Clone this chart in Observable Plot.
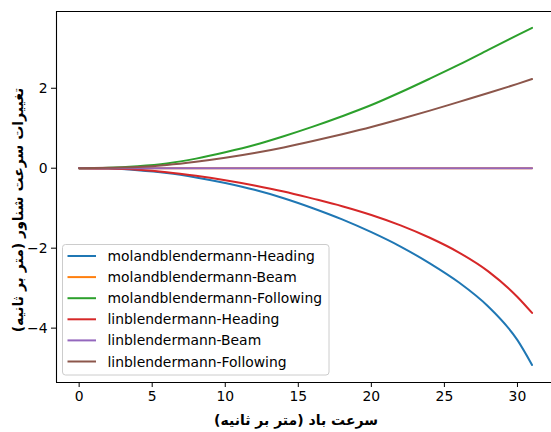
<!DOCTYPE html>
<html>
<head>
<meta charset="utf-8">
<script src="https://cdn.jsdelivr.net/npm/d3@7"></script>
<script src="https://cdn.jsdelivr.net/npm/@observablehq/plot@0.6"></script>
<style>
  html, body { margin: 0; padding: 0; background: #fff; }
  #chart svg { display: block; font-family: "DejaVu Sans", sans-serif; }
</style>
</head>
<body>
<div id="chart"></div>
<script>
// ---- data ----
const windSpeed = [0, 2, 4, 6, 8, 10, 12, 14, 16, 18, 20, 22, 24, 26, 28, 30, 31];
const molHeading   = [0, -0.01, -0.05, -0.12, -0.23, -0.37, -0.54, -0.75, -1.00, -1.28, -1.60, -1.96, -2.38, -2.86, -3.46, -4.30, -4.92];
const molBeam      = [0, 0, 0, 0, 0, 0, 0, 0, 0, 0, 0, 0, 0, 0, 0, 0, 0];
const molFollowing = [0, 0.01, 0.05, 0.12, 0.24, 0.40, 0.58, 0.80, 1.04, 1.30, 1.58, 1.90, 2.24, 2.59, 2.96, 3.33, 3.51];
const linHeading   = [0, -0.01, -0.04, -0.10, -0.19, -0.30, -0.43, -0.58, -0.76, -0.95, -1.17, -1.43, -1.74, -2.11, -2.58, -3.22, -3.62];
const linBeam      = [0, 0, 0, 0, 0, 0, 0, 0, 0, 0, 0, 0, 0, 0, 0, 0, 0];
const linFollowing = [0, 0.01, 0.03, 0.08, 0.16, 0.26, 0.38, 0.52, 0.68, 0.85, 1.03, 1.23, 1.44, 1.66, 1.88, 2.11, 2.23];

const seriesNames = [
  "molandblendermann-Heading",
  "molandblendermann-Beam",
  "molandblendermann-Following",
  "linblendermann-Heading",
  "linblendermann-Beam",
  "linblendermann-Following"
];
const seriesValues = [molHeading, molBeam, molFollowing, linHeading, linBeam, linFollowing];
const seriesColors = ["#1f77b4", "#ff7f0e", "#2ca02c", "#d62728", "#9467bd", "#8c564b"];

const xTicks = [0, 5, 10, 15, 20, 25, 30];
const yTicks = [-4, -2, 0, 2];
const xDomain = [-1.55, 32.33];
const yDomain = [-5.36, 3.92];

const xLabel = "سرعت باد (متر بر ثانیه)";
const yLabel = "تغییرات سرعت شناور (متر بر ثانیه)";

// ---- build table ----
const rows = [];
seriesNames.forEach((name, s) => {
  windSpeed.forEach((w, i) => rows.push({series: name, x: w, y: seriesValues[s][i]}));
});

const W = 551, H = 432;
const mL = 56, mR = 0, mT = 11, mB = 50;
const fs = 13.9;

const chart = Plot.plot({
  width: W,
  height: H,
  marginLeft: mL,
  marginRight: mR,
  marginTop: mT,
  marginBottom: mB,
  style: {fontFamily: "DejaVu Sans", fontSize: fs + "px", color: "#000", background: "#fff"},
  x: {domain: xDomain},
  y: {domain: yDomain},
  color: {domain: seriesNames, range: seriesColors},
  marks: [
    Plot.ruleX([xDomain[0]], {stroke: "#000", strokeWidth: 1.1}),
    Plot.ruleY([yDomain[0]], {stroke: "#000", strokeWidth: 1.1}),
    Plot.ruleY([yDomain[1]], {stroke: "#000", strokeWidth: 1.1}),
    Plot.axisX({ticks: xTicks, tickSize: 5, tickPadding: 4, label: null, fontSize: fs, tickFormat: d => String(d)}),
    Plot.axisY({ticks: yTicks, tickSize: 5, tickPadding: 4, label: null, fontSize: fs}),
    Plot.line(rows, {x: "x", y: "y", z: "series", stroke: "series", strokeWidth: 2, curve: "monotone-x"})
  ]
});

document.getElementById("chart").appendChild(chart);

// ---- labels & legend ----
const svg = d3.select(chart);

svg.append("text")
  .attr("x", 296)
  .attr("y", 420)
  .attr("text-anchor", "middle")
  .attr("dominant-baseline", "central")
  .attr("direction", "rtl")
  .attr("font-family", "DejaVu Sans")
  .attr("font-weight", "bold")
  .attr("font-size", 14)
  .attr("fill", "#000")
  .text(xLabel);

svg.append("text")
  .attr("transform", "translate(18,210) rotate(-90)")
  .attr("text-anchor", "middle")
  .attr("dominant-baseline", "central")
  .attr("direction", "rtl")
  .attr("font-family", "DejaVu Sans")
  .attr("font-weight", "bold")
  .attr("font-size", 14)
  .attr("fill", "#000")
  .text(yLabel);

const lg = svg.append("g").attr("text-anchor", "start");
lg.append("rect")
  .attr("x", 62.5).attr("y", 244.5)
  .attr("width", 266.5).attr("height", 130.5)
  .attr("rx", 3)
  .attr("fill", "#fff").attr("fill-opacity", 0.85)
  .attr("stroke", "#cccccc").attr("stroke-width", 1);

seriesNames.forEach((name, i) => {
  const cy = 256 + i * 21.1;
  lg.append("line")
    .attr("x1", 67.5).attr("x2", 96)
    .attr("y1", cy).attr("y2", cy)
    .attr("stroke", seriesColors[i]).attr("stroke-width", 2);
  lg.append("text")
    .attr("x", 107.5).attr("y", cy)
    .attr("text-anchor", "start")
    .attr("direction", "ltr")
    .attr("dominant-baseline", "central")
    .attr("font-family", "DejaVu Sans")
    .attr("font-size", fs)
    .attr("fill", "#000")
    .text(name);
});
</script>
</body>
</html>
